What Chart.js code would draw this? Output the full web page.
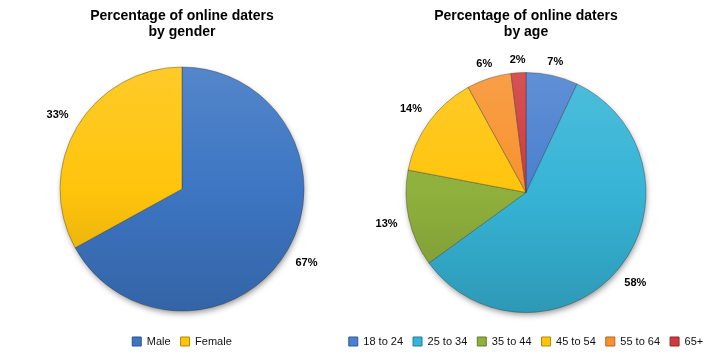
<!DOCTYPE html>
<html><head><meta charset="utf-8">
<script src="https://cdn.jsdelivr.net/npm/chart.js@4"></script>
<style>
html,body{margin:0;padding:0;background:#fff;width:722px;height:363px;overflow:hidden;}
canvas{position:absolute;top:0;}
#c1{left:0;}
#c2{left:330px;}
</style></head><body>
<canvas id="c1" width="364" height="363"></canvas>
<canvas id="c2" width="392" height="363"></canvas>
<script>
// ---- data ----
const genderLabels = ['Male', 'Female'];
const genderValues = [67, 33];
const ageLabels = ['18 to 24', '25 to 34', '35 to 44', '45 to 54', '55 to 64', '65+'];
const ageValues = [7, 58, 13, 14, 6, 2];
const genderTitle = ['Percentage of online daters', 'by gender'];
const ageTitle = ['Percentage of online daters', 'by age'];

// ---- styles ----
const genderColors = ['#3D76C3', '#FFC40C'];
const ageColors = ['#4A80CF', '#36B4D6', '#8FB03C', '#FFC40C', '#F7922E', '#CF3A3D'];

function shade(hex, f) {
  const n = parseInt(hex.slice(1), 16);
  let r = n >> 16, g = (n >> 8) & 255, b = n & 255;
  const t = f < 0 ? 0 : 255, p = Math.abs(f);
  r = Math.round(r + (t - r) * p); g = Math.round(g + (t - g) * p); b = Math.round(b + (t - b) * p);
  return 'rgb(' + r + ',' + g + ',' + b + ')';
}
function gradFill(colors) {
  return (ctx) => {
    const chart = ctx.chart, a = chart.chartArea, base = colors[ctx.dataIndex];
    if (!a) return base;
    const cy = (a.top + a.bottom) / 2, r = ctx.dataset.radius;
    const g = chart.ctx.createLinearGradient(0, cy - r, 0, cy + r);
    g.addColorStop(0, shade(base, 0.12));
    g.addColorStop(0.5, base);
    g.addColorStop(1, shade(base, -0.15));
    return g;
  };
}

const shadowPlugin = {
  id: 'pieShadow',
  beforeDatasetsDraw(chart) {
    const arc = chart.getDatasetMeta(0).data[0];
    if (!arc) return;
    const p = arc.getProps(['x', 'y', 'outerRadius'], true);
    const c = chart.ctx;
    c.save();
    c.shadowColor = 'rgba(0,0,0,0.45)';
    c.shadowBlur = 6; c.shadowOffsetX = 1; c.shadowOffsetY = 3;
    c.beginPath(); c.arc(p.x, p.y, p.outerRadius - 1, 0, Math.PI * 2);
    c.fillStyle = '#fff'; c.fill();
    c.restore();
  }
};

const labelPlugin = {
  id: 'outLabels',
  afterDatasetsDraw(chart) {
    const c = chart.ctx, meta = chart.getDatasetMeta(0), vals = chart.data.datasets[0].data;
    c.save();
    c.font = 'bold 11px "Liberation Sans", Arial, sans-serif';
    c.fillStyle = '#000'; c.textAlign = 'center'; c.textBaseline = 'middle';
    meta.data.forEach((arc, i) => {
      const p = arc.getProps(['x', 'y', 'startAngle', 'endAngle', 'outerRadius'], true);
      const mid = (p.startAngle + p.endAngle) / 2;
      const txt = vals[i] + '%';
      const w = c.measureText(txt).width, h = 11;
      const cos = Math.cos(mid), sin = Math.sin(mid);
      const gap = 6 + 5 * Math.abs(cos);
      const d = p.outerRadius + gap + Math.abs(cos) * w / 2 + Math.abs(sin) * h / 2;
      c.fillText(txt, p.x + cos * d, p.y + sin * d);
    });
    c.restore();
  }
};

function makeChart(id, labels, values, colors, title, titleBottom, radius) {
  return new Chart(document.getElementById(id), {
    type: 'pie',
    data: {
      labels: labels,
      datasets: [{
        data: values,
        radius: radius,
        backgroundColor: gradFill(colors),
        borderColor: 'rgba(40,40,40,0.35)',
        borderWidth: 1
      }]
    },
    options: {
      responsive: false,
      animation: false,
      layout: { padding: { top: 0, bottom: 6, left: 0, right: 0 } },
      plugins: {
        title: {
          display: true,
          text: title,
          color: '#000',
          font: { family: '"Liberation Sans", Arial, sans-serif', size: 14, weight: 'bold', lineHeight: 1.15 },
          padding: { top: 8, bottom: titleBottom }
        },
        legend: {
          position: 'bottom',
          labels: {
            color: '#111',
            font: { family: '"Liberation Sans", Arial, sans-serif', size: 11 },
            boxWidth: 9, boxHeight: 9, padding: 10,
            generateLabels(chart) {
              const items = Chart.overrides.doughnut.plugins.legend.labels.generateLabels(chart);
              items.forEach((it, i) => {
                it.fillStyle = colors[i];
                it.strokeStyle = shade(colors[i], -0.3);
                it.lineWidth = 1;
              });
              return items;
            }
          }
        },
        tooltip: { enabled: false }
      }
    },
    plugins: [shadowPlugin, labelPlugin]
  });
}

makeChart('c1', genderLabels, genderValues, genderColors, genderTitle, 11.8, 122);
makeChart('c2', ageLabels, ageValues, ageColors, ageTitle, 18.8, 120);
</script>
</body></html>
